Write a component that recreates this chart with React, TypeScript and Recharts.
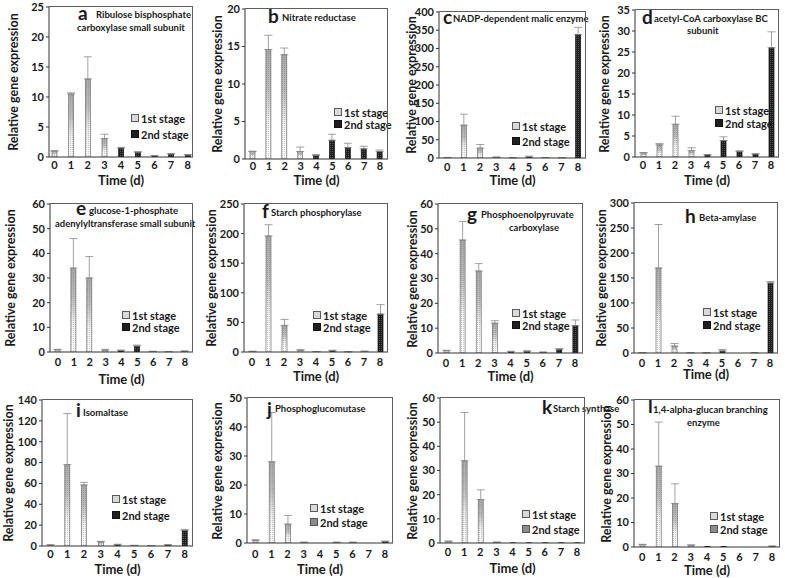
import React from 'react';
import { BarChart, Bar, XAxis, YAxis, ErrorBar } from 'recharts';

// days 0-3 = 1st stage, days 4-8 = 2nd stage
const DAYS = ['0', '1', '2', '3', '4', '5', '6', '7', '8'];
const STAGE1_COUNT = 4;

const aValues = [1.0, 10.5, 13.0, 3.1, 1.5, 0.8, 0.2, 0.5, 0.35];
const aErrors = [0.05, 0.2, 3.7, 0.7, 0.1, 0.1, 0.05, 0.05, 0.05];
const aTicks = [0, 5, 10, 15, 20, 25];

const bValues = [1.0, 14.6, 13.9, 1.0, 0.45, 2.5, 1.5, 1.35, 1.0];
const bErrors = [0.05, 1.9, 0.9, 0.6, 0.15, 0.8, 0.6, 0.35, 0.2];
const bTicks = [0, 5, 10, 15, 20];

const cValues = [1, 90, 27, 2, 0.5, 3, 1, 0.5, 338];
const cErrors = [0.5, 30, 10, 1, 0.3, 2, 0.5, 0.3, 20];
const cTicks = [0, 50, 100, 150, 200, 250, 300, 350, 400];

const dValues = [1.0, 2.9, 7.8, 1.5, 0.5, 3.9, 1.3, 0.7, 26];
const dErrors = [0.05, 0.3, 1.9, 0.7, 0.1, 0.9, 0.2, 0.1, 3.8];
const dTicks = [0, 5, 10, 15, 20, 25, 30, 35];

const eValues = [1, 34, 30, 0.8, 0.6, 2.4, 0.2, 0.1, 0.3];
const eErrors = [0.1, 12, 8.7, 0.3, 0.2, 0.4, 0.1, 0.05, 0.1];
const eTicks = [0, 10, 20, 30, 40, 50, 60];

const fValues = [1, 196, 45, 3, 0.5, 2, 0.3, 1, 64];
const fErrors = [0.3, 19, 10, 1, 0.3, 1, 0.2, 0.5, 16];
const fTicks = [0, 50, 100, 150, 200, 250];

const gValues = [1, 45.5, 33, 12, 0.5, 0.7, 0.3, 1.5, 11];
const gErrors = [0.1, 7.5, 3, 1, 0.2, 0.2, 0.1, 0.3, 2.3];
const gTicks = [0, 10, 20, 30, 40, 50, 60];

const hValues = [0.5, 170, 14, 0.5, 0.3, 4, 0, 0.5, 140];
const hErrors = [0.2, 87, 5, 0.2, 0.1, 3, 0, 0.2, 3];
const hTicks = [0, 50, 100, 150, 200, 250, 300];

const iValues = [1, 78, 58.5, 4, 1.2, 0.5, 0.3, 1, 15];
const iErrors = [0.2, 49, 2.5, 0.5, 0.5, 0.2, 0.1, 0.3, 1];
const iTicks = [0, 20, 40, 60, 80, 100, 120, 140];

const jValues = [1, 28, 6.5, 0.2, 0, 0.2, 0.2, 0, 0.5];
const jErrors = [0.1, 17, 3, 0.1, 0, 0.1, 0.1, 0, 0.2];
const jTicks = [0, 10, 20, 30, 40, 50];

const kValues = [0.7, 34, 18, 0.3, 0.1, 0.1, 0.1, 0.1, 0.1];
const kErrors = [0.1, 20, 4, 0.1, 0, 0, 0, 0, 0];
const kTicks = [0, 10, 20, 30, 40, 50, 60];

const lValues = [1, 33, 17.7, 0.7, 0.2, 0.2, 0, 0, 0.3];
const lErrors = [0.1, 18, 8.1, 0.2, 0, 0, 0, 0, 0.1];
const lTicks = [0, 10, 20, 30, 40, 50, 60];

const FONT = 'Lato, "Open Sans", sans-serif';
const INK = '#1a1a1a';
const FRAME = '#5e5e5e';

type Line = [number, number, string];
type Panel = {
  letter: string;
  values: number[];
  errors: number[];
  ticks: number[];
  plot: [number, number, number, number];
  yLabelX: number;
  xLabelY: number;
  tickLabelY: number;
  letterPos: [number, number];
  lines: Line[];
  legend: [number, number, number];
  greyLegend?: boolean;
  pad?: [number, number];
};

const panels: Panel[] = [
  { letter: 'a', values: aValues, errors: aErrors, ticks: aTicks, plot: [49, 7, 193, 157], yLabelX: 14, xLabelY: 180, tickLabelY: 165,
    letterPos: [78, 15], lines: [[96, 15, 'Ribulose bisphosphate'], [77, 28, 'carboxylase small subunit']], legend: [131, 118, 134], pad: [-3, -3] },
  { letter: 'b', values: bValues, errors: bErrors, ticks: bTicks, plot: [245, 9, 388, 159], yLabelX: 218, xLabelY: 180, tickLabelY: 166,
    letterPos: [268, 18], lines: [[282, 18, 'Nitrate reductase']], legend: [334, 112, 124] },
  { letter: 'c', values: cValues, errors: cErrors, ticks: cTicks, plot: [439, 12, 586, 158], yLabelX: 412, xLabelY: 180, tickLabelY: 167,
    letterPos: [443, 19], lines: [[453, 19, 'NADP-dependent malic enzyme']], legend: [512, 126, 141] },
  { letter: 'd', values: dValues, errors: dErrors, ticks: dTicks, plot: [635, 10, 779, 157], yLabelX: 605, xLabelY: 180, tickLabelY: 165,
    letterPos: [642, 19], lines: [[654, 19, 'acetyl-CoA carboxylase BC'], [687, 31, 'subunit']], legend: [715, 110, 123] },
  { letter: 'e', values: eValues, errors: eErrors, ticks: eTicks, plot: [50, 204, 193, 352], yLabelX: 11, xLabelY: 379, tickLabelY: 362,
    letterPos: [76, 210], lines: [[89, 211, 'glucose-1-phosphate'], [55, 224, 'adenylyltransferase small subunit']], legend: [122, 315, 327] },
  { letter: 'f', values: fValues, errors: fErrors, ticks: fTicks, plot: [244, 204, 388, 352], yLabelX: 212, xLabelY: 376, tickLabelY: 362,
    letterPos: [262, 213], lines: [[271, 213, 'Starch  phosphorylase']], legend: [313, 315, 327] },
  { letter: 'g', values: gValues, errors: gErrors, ticks: gTicks, plot: [438, 204, 583, 353], yLabelX: 413, xLabelY: 376, tickLabelY: 363,
    letterPos: [467, 216], lines: [[481, 215, 'Phosphoenolpyruvate'], [509, 228, 'carboxylase']], legend: [512, 313, 325] },
  { letter: 'h', values: hValues, errors: hErrors, ticks: hTicks, plot: [634, 203, 778, 353], yLabelX: 602, xLabelY: 374, tickLabelY: 363,
    letterPos: [685, 218], lines: [[699, 218, 'Beta-amylase']], legend: [703, 312, 325] },
  { letter: 'i', values: iValues, errors: iErrors, ticks: iTicks, plot: [42, 400, 193, 546], yLabelX: 9, xLabelY: 569, tickLabelY: 554,
    letterPos: [76, 412], lines: [[83, 413, 'Isomaltase']], legend: [112, 499, 515] },
  { letter: 'j', values: jValues, errors: jErrors, ticks: jTicks, plot: [247, 398, 393, 543], yLabelX: 218, xLabelY: 569, tickLabelY: 554,
    letterPos: [267, 411], lines: [[275, 409, 'Phosphoglucomutase']], legend: [310, 508, 522], greyLegend: true },
  { letter: 'k', values: kValues, errors: kErrors, ticks: kTicks, plot: [440, 398, 585, 543], yLabelX: 413, xLabelY: 568, tickLabelY: 552,
    letterPos: [542, 409], lines: [[553, 409, 'Starch synthase']], legend: [522, 514, 529], greyLegend: true },
  { letter: 'l', values: lValues, errors: lErrors, ticks: lTicks, plot: [634, 400, 780, 547], yLabelX: 607, xLabelY: 570, tickLabelY: 557,
    letterPos: [648, 408], lines: [[653, 410, '1,4-alpha-glucan branching'], [687, 423, 'enzyme']], legend: [710, 516, 529], greyLegend: true },
];

const BarShape = (props: any) => {
  const { x, y, width, height, payload } = props;
  if (!height || height <= 0) return null;
  const first = payload.stage === 1;
  return (
    <g>
      <rect x={x} y={y} width={width} height={height} fill={first ? 'url(#stage1Grad)' : '#1f1f1f'} />
      <rect x={x} y={y} width={width} height={height} fill={first ? 'url(#stage1Dots)' : 'url(#stage2Dots)'} />
      <rect x={x} y={y} width={width} height={height} fill="none" stroke={first ? '#6f6f6f' : '#111'} strokeWidth={0.7} />
    </g>
  );
};

const abs = (left: number, top: number): React.CSSProperties => ({ position: 'absolute', left, top, lineHeight: 1, whiteSpace: 'nowrap' });

function PanelChart({ p }: { p: Panel }) {
  const [L, T, R, B] = p.plot;
  const yw = 45;
  const mt = 6;
  const xh = 26;
  const W = R - L + yw + 6;
  const H = B - T + mt + xh;
  const yMax = p.ticks[p.ticks.length - 1];
  const rows = DAYS.map((day, i) => ({
    day,
    value: p.values[i] > 0 ? p.values[i] : null,
    err: p.errors[i] > 0 ? [0, p.errors[i]] : null,
    stage: i < STAGE1_COUNT ? 1 : 2,
  }));
  const pad = p.pad ?? [0, 0];
  const midY = (T + B) / 2;
  return (
    <>
      <div style={{ position: 'absolute', left: L - yw, top: T - mt, width: W, height: H }}>
        <BarChart width={W} height={H} data={rows} margin={{ top: mt, right: 6, left: 0, bottom: 0 }} barSize={5}>
          <XAxis
            dataKey="day"
            height={xh}
            padding={{ left: pad[0], right: pad[1] }}
            axisLine={{ stroke: '#333', strokeWidth: 1 }}
            tickLine={false}
            tickSize={0}
            tickMargin={Math.max(1, p.tickLabelY - B - 4)}
            interval={0}
            tick={{ fontSize: 11, fontWeight: 700, fill: INK, fontFamily: FONT }}
          />
          <YAxis
            width={yw}
            domain={[0, yMax]}
            ticks={p.ticks}
            interval={0}
            allowDataOverflow
            axisLine={{ stroke: '#333', strokeWidth: 1 }}
            tickLine={{ stroke: '#333' }}
            tickSize={3}
            tickMargin={2}
            tick={{ fontSize: 11, fontWeight: 700, fill: INK, fontFamily: FONT }}
          />
          <Bar dataKey="value" shape={BarShape} isAnimationActive={false}>
            <ErrorBar dataKey="err" width={4} stroke="#8a8a8a" strokeWidth={0.8} direction="y" />
          </Bar>
        </BarChart>
      </div>
      {/* plot frame: top + right edges */}
      <div style={{ position: 'absolute', left: L, top: T - 1, width: R - L, height: 0, borderTop: `1.5px solid ${FRAME}`, zIndex: 2 }} />
      <div style={{ position: 'absolute', left: R - 1, top: T - 1, width: 0, height: B - T + 1, borderLeft: `1.5px solid ${FRAME}`, zIndex: 2 }} />
      <div style={{ ...abs(p.yLabelX, midY), fontSize: 12.5, fontWeight: 700, color: INK, transform: 'translate(-50%, -50%) rotate(-90deg)' }}>
        Relative gene expression
      </div>
      <div style={{ ...abs((L + R) / 2, p.xLabelY), fontSize: 13, fontWeight: 700, color: INK, transform: 'translate(-50%, -50%)' }}>
        Time (d)
      </div>
      <div style={{ ...abs(p.letterPos[0], p.letterPos[1] - 12), fontSize: 19, fontWeight: 700, color: INK }}>{p.letter}</div>
      {p.lines.map(([x, y, text], i) => (
        <div key={i} style={{ ...abs(x, y - 5), fontSize: 9.5, fontWeight: 700, color: INK }}>{text}</div>
      ))}
      {[
        { label: '1st stage', y: p.legend[1], bg: '#d9d9d9', bd: '#5a5a5a' },
        { label: '2nd stage', y: p.legend[2], bg: p.greyLegend ? '#8c8c8c' : '#1f1f1f', bd: p.greyLegend ? '#555' : '#111' },
      ].map((e) => (
        <div key={e.label} style={{ ...abs(p.legend[0], e.y - 5.5), display: 'flex', alignItems: 'center', fontSize: 11, fontWeight: 700, color: INK, height: 11 }}>
          <span style={{ display: 'inline-block', width: 6, height: 6, background: e.bg, border: `1px solid ${e.bd}`, marginRight: 2 }} />
          {e.label}
        </div>
      ))}
    </>
  );
}

export default function App() {
  return (
    <div style={{ position: 'absolute', left: 0, top: 0, width: 785, height: 578, background: '#fff', fontFamily: FONT, overflow: 'hidden' }}>
      <svg width={0} height={0} style={{ position: 'absolute' }}>
        <defs>
          <linearGradient id="stage1Grad" x1="0" y1="0" x2="0" y2="1">
            <stop offset="0%" stopColor="#a9a9a9" />
            <stop offset="35%" stopColor="#bdbdbd" />
            <stop offset="65%" stopColor="#eeeeee" />
            <stop offset="100%" stopColor="#ffffff" />
          </linearGradient>
          <pattern id="stage1Dots" width={2} height={2} patternUnits="userSpaceOnUse">
            <rect x={0} y={0} width={1} height={1} fill="rgba(110,110,110,0.35)" />
          </pattern>
          <pattern id="stage2Dots" width={2} height={2} patternUnits="userSpaceOnUse">
            <rect x={0} y={0} width={1} height={1} fill="rgba(150,150,150,0.45)" />
          </pattern>
        </defs>
      </svg>
      {panels.map((p) => (
        <PanelChart key={p.letter} p={p} />
      ))}
    </div>
  );
}
